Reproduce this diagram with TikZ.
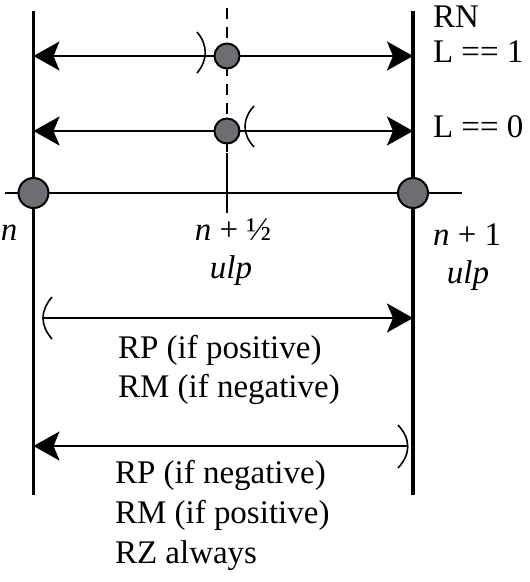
\documentclass[tikz,border=0pt]{standalone}
\usepackage{fontspec}
\setmainfont{Liberation Serif}
\usetikzlibrary{arrows.meta}
\definecolor{dotgray}{HTML}{6D6E71}
\begin{document}
\begin{tikzpicture}[x=1pt,y=-1pt,
  every node/.style={inner sep=0pt, outer sep=0pt},
  txt/.style={font=\fontsize{33}{39}\selectfont},
  bigdot/.style={circle, draw=black, line width=2pt, fill=dotgray, minimum size=30pt},
  smalldot/.style={circle, draw=black, line width=2pt, fill=dotgray, minimum size=25pt},
  rng/.style={line width=2.5pt, -{Stealth[length=26pt,width=29pt,inset=6pt]}},
  rngboth/.style={line width=2.5pt, {Stealth[length=26pt,width=29pt,inset=6pt]}-{Stealth[length=26pt,width=29pt,inset=6pt]}},
  paren/.style={line width=1.6pt},
  vline/.style={line width=2.7pt},
]
\useasboundingbox (0,0) rectangle (530,582);
% verticals
\coordinate (LT) at (33.5,11);
\coordinate (LB) at (33.5,495);
\coordinate (RT) at (413,11);
\coordinate (RB) at (413,495);
\draw[vline] (LT) -- (LB);
\draw[vline, line width=3.2pt] (RT) -- (RB);
% axis
\coordinate (AL) at (5,193);
\coordinate (AR) at (462,193);
\draw[line width=2.5pt] (AL) -- (AR);
% middle
\coordinate (MT) at (227,8);
\coordinate (MM) at (227,153);
\coordinate (MB) at (227,213);
\draw[line width=1.6pt, dash pattern=on 11pt off 8pt] (MT) -- (MM);
\draw[line width=1.6pt] (MM) -- (MB);
% arrow 1
\coordinate (A1L) at (33.5,56);
\coordinate (A1R) at (413,56);
\draw[rngboth] (A1L) -- (A1R);
\draw[paren] (197,32) .. controls (208,45) and (208,60) .. (197,73);
\node[smalldot] (d1) at (227,56) {};
% arrow 2
\coordinate (A2L) at (33.5,131);
\coordinate (A2R) at (413,131);
\draw[rngboth] (A2L) -- (A2R);
\draw[paren] (254,106) .. controls (242,119) and (242,134) .. (254,147);
\node[smalldot] (d2) at (227,131) {};
% axis dots
\node[bigdot] (n0) at (33.5,193) {};
\node[bigdot] (n1) at (413,193) {};
% arrow 3
\coordinate (A3L) at (43,318);
\coordinate (A3R) at (413,318);
\draw[rng] (A3L) -- (A3R);
\draw[paren] (52,297) .. controls (40,311) and (40,325) .. (52,339);
% arrow 4
\coordinate (A4R) at (407,446);
\coordinate (A4L) at (33.5,446);
\draw[rng] (A4R) -- (A4L);
\draw[paren] (398,425) .. controls (411,439) and (411,454) .. (398,468);
% labels
\node[txt, anchor=base west] (rn) at (433,27) {RN};
\node[txt, anchor=base west] (l1) at (433,62) {L == 1};
\node[txt, anchor=base west] (l0) at (433,137) {L == 0};
\node[txt, anchor=base west] (tn) at (1,240) {\itshape n};
\node[txt, anchor=base] (th) at (233,240) {\itshape n\/\upshape{} + ½};
\node[txt, anchor=base] (tu1) at (231,278) {\itshape ulp};
\node[txt, anchor=base west] (t1) at (433,245) {\itshape n\/\upshape{} + 1};
\node[txt, anchor=base] (tu2) at (468,283) {\itshape ulp};
\node[txt, anchor=base west] (p1) at (118,358) {RP (if positive)};
\node[txt, anchor=base west] (p2) at (118,397) {RM (if negative)};
\node[txt, anchor=base west] (q1) at (115,483) {RP (if negative)};
\node[txt, anchor=base west] (q2) at (115,523) {RM (if positive)};
\node[txt, anchor=base west] (q3) at (115,563) {RZ always};
\end{tikzpicture}
\end{document}
